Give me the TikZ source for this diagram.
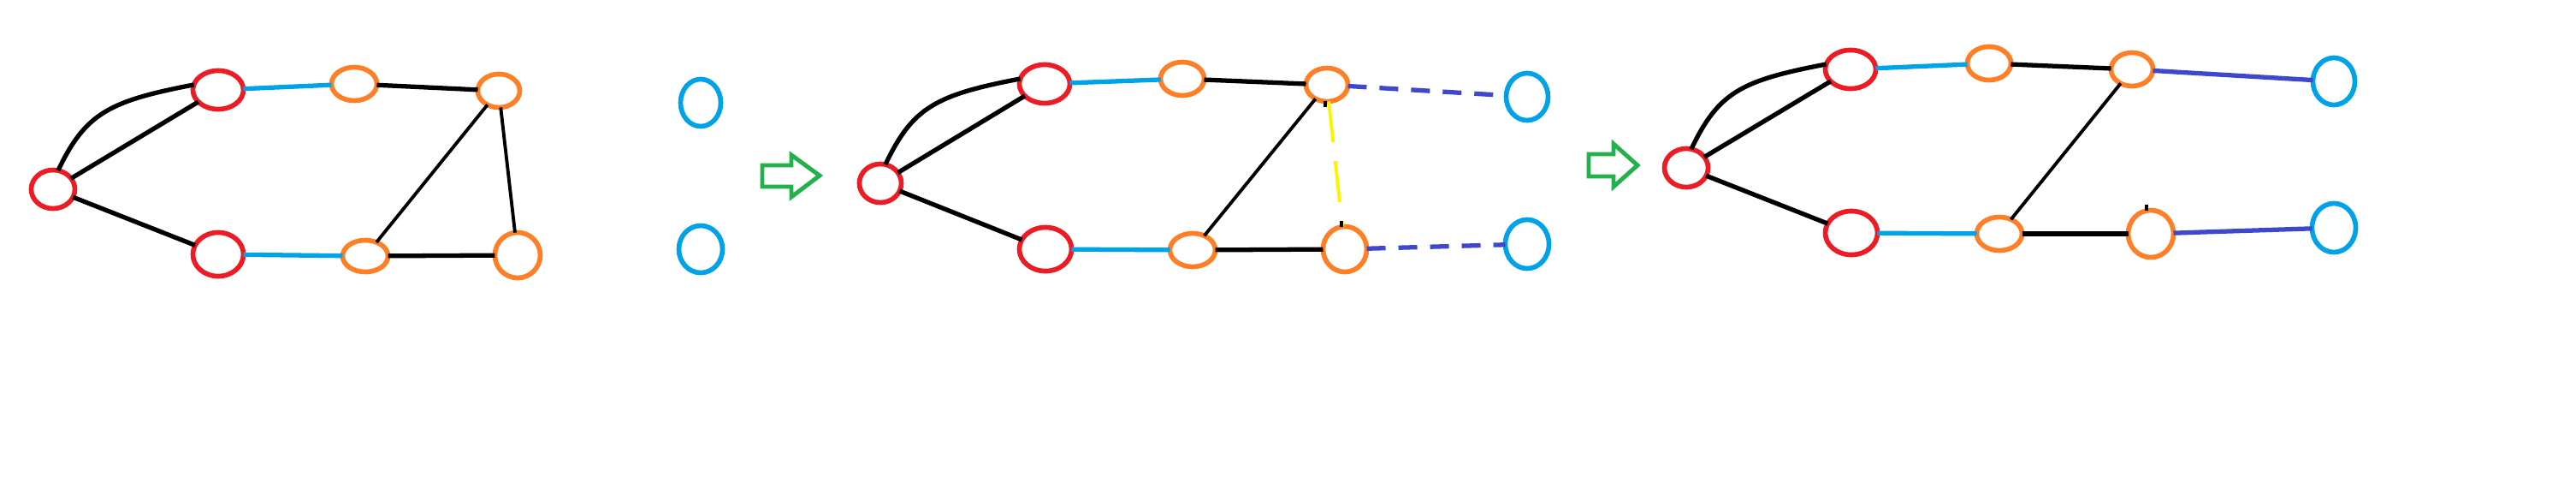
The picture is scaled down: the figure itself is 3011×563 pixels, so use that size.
\documentclass[tikz,border=0pt]{standalone}
\usetikzlibrary{shapes.geometric}
\usepackage{xcolor}
\definecolor{paintred}{RGB}{237,28,36}
\definecolor{paintorange}{RGB}{255,127,39}
\definecolor{paintblue}{RGB}{0,162,232}
\definecolor{paintviolet}{RGB}{63,72,204}
\definecolor{paintgreen}{RGB}{34,177,76}
\definecolor{paintyellow}{RGB}{255,242,0}

\begin{document}
\begin{tikzpicture}[x=0.01cm,y=-0.01cm,
    nd/.style 2 args={ellipse,draw,line width=1.6pt,inner sep=0pt,outer sep=0pt,
      minimum width=0.02cm*#1-0.05cm,minimum height=0.02cm*#2-0.05cm},
    thickedge/.style={line width=1.5pt},
    thinedge/.style={line width=1.1pt},
    swap/.style={paintviolet,line width=1.5pt},
    blockarrow/.style={paintgreen,line width=1.4pt,line join=miter}]
  \fill[white] (0,0) rectangle (3011,563);
  \useasboundingbox (0,0) rectangle (3011,563);

  % nodes of the three stages
  \foreach \nm/\x/\y/\rx/\ry/\col in {
      a1/62/221/28/25/paintred, b1/255/105/32/25/paintred, c1/414/98/29/22/paintorange,
      d1/583/106/27/22/paintorange, e1/255/297/32/28/paintred, f1/427/299/29/21/paintorange,
      g1/605/298/29/29/paintorange, h1/819/120/26/30/paintblue, i1/819/291/28/30/paintblue,
      a2/1029/214/27/25/paintred, b2/1221/98/32/25/paintred, c2/1382/92/28/22/paintorange,
      d2/1551/99/27/22/paintorange, e2/1222/291/33/28/paintred, f2/1394/292/29/22/paintorange,
      g2/1572/291/28/29/paintorange, h2/1785/113/27/30/paintblue, i2/1785/285/28/31/paintblue,
      a3/1971/196/28/25/paintred, b3/2163/81/32/25/paintred, c3/2325/74/28/22/paintorange,
      d3/2492/81/27/22/paintorange, e3/2164/272/33/28/paintred, f3/2337/273/29/22/paintorange,
      g3/2514/273/29/30/paintorange, h3/2728/95/27/30/paintblue, i3/2728/266/28/31/paintblue}{
    \node[nd={\rx}{\ry},draw=\col] (\nm) at (\x,\y) {};
  }

  % stage 1
  \draw[thickedge] (a1.75) .. controls +(32,-67) and +(-99,19) .. (b1.168);
  \draw[thickedge] (a1) -- (b1);
  \draw[thickedge] (a1) -- (e1);
  \draw[thickedge,paintblue] (b1) -- (c1);
  \draw[thickedge] (c1) -- (d1);
  \draw[thinedge] (d1) -- (f1);
  \draw[thinedge] (d1) -- (g1);
  \draw[thickedge,paintblue] (e1) -- (f1);
  \draw[thickedge] (f1) -- (g1);

  % arrow between stages
  \draw[blockarrow] (891,193) -- (925,193) -- (925,181) -- (958,205)
    -- (925,230) -- (925,218) -- (891,218) -- cycle;

  % stage 2
  \draw[thickedge] (a2.75) .. controls +(32,-67) and +(-99,19) .. (b2.168);
  \draw[thickedge] (a2) -- (b2);
  \draw[thickedge] (a2) -- (e2);
  \draw[thickedge,paintblue] (b2) -- (c2);
  \draw[thickedge] (c2) -- (d2);
  \draw[thinedge] (d2) -- (f2);
  \draw[thinedge,paintyellow,dash pattern=on 0.48cm off 0.22cm] (d2) -- (g2);
  \draw[thickedge,paintblue] (e2) -- (f2);
  \draw[thickedge] (f2) -- (g2);
  \draw[swap,dash pattern=on 0.22cm off 0.15cm] (d2) -- (h2);
  \draw[swap,dash pattern=on 0.22cm off 0.15cm] (g2) -- (i2);
  \draw[thinedge] (d2.265) -- ++(0,7);
  \draw[thinedge] (g2.98) -- ++(0,-7);

  % arrow between stages
  \draw[blockarrow] (1857,180) -- (1886,180) -- (1886,168) -- (1914,193)
    -- (1886,218) -- (1886,206) -- (1857,206) -- cycle;

  % stage 3
  \draw[thickedge] (a3.75) .. controls +(32,-67) and +(-99,19) .. (b3.168);
  \draw[thickedge] (a3) -- (b3);
  \draw[thickedge] (a3) -- (e3);
  \draw[thickedge,paintblue] (b3) -- (c3);
  \draw[thickedge] (c3) -- (d3);
  \draw[thinedge] (d3) -- (f3);
  \draw[thickedge,paintblue] (e3) -- (f3);
  \draw[thickedge] (f3) -- (g3);
  \draw[swap] (d3) -- (h3);
  \draw[swap] (g3) -- (i3);
  \draw[thinedge] (g3.100) -- ++(0,-7);
\end{tikzpicture}
\end{document}
